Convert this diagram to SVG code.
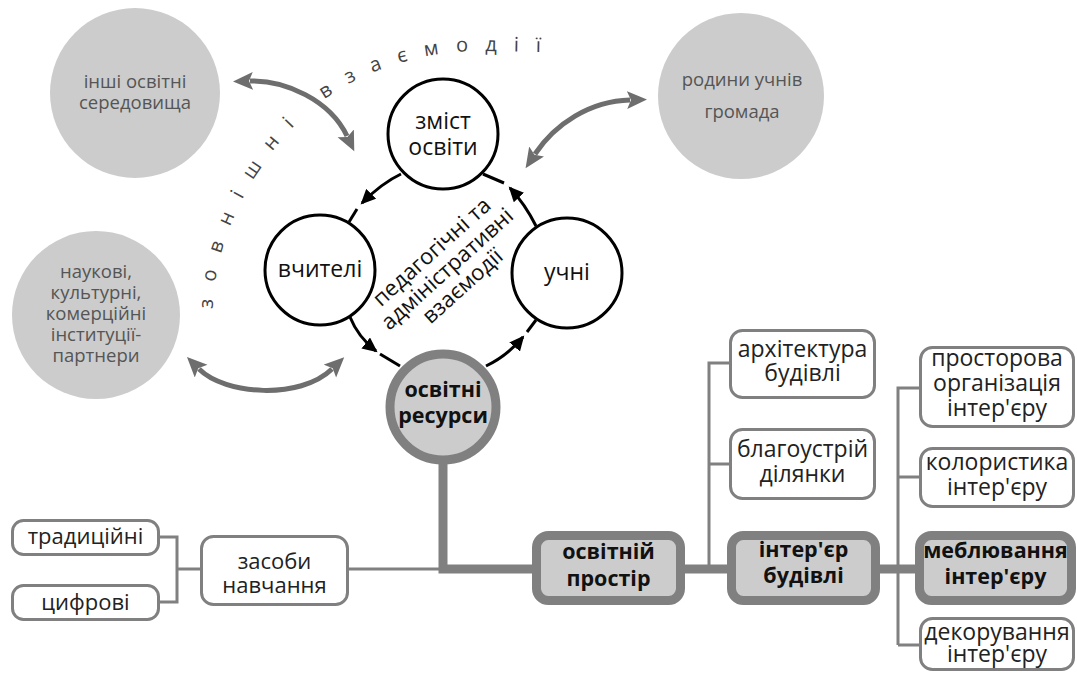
<svg xmlns="http://www.w3.org/2000/svg" width="1077" height="673" viewBox="0 0 1077 673">
<style>
text{font-family:"Open Sans","Liberation Sans",sans-serif;text-anchor:middle}
.gc{fill:#cccccc}
.gt{fill:#555;font-size:18.5px}
.bc{fill:#fff;stroke:#000;stroke-width:3}
.bt{fill:#111;font-size:23px}
.box{fill:#fff;stroke:#808080;stroke-width:3}
.hbox{fill:#cccccc;stroke:#808080;stroke-width:9}
.xt{fill:#222;font-size:23px}
.lt{fill:#222;font-size:22px}
.ht{fill:#111;font-size:21.5px;font-weight:bold}
.thin{fill:none;stroke:#808080;stroke-width:3}
.thick{fill:none;stroke:#808080;stroke-width:9}
.ring{fill:none;stroke:#000;stroke-width:3}
.dbl{fill:none;stroke:#6e6e6e;stroke-width:5}
</style>
<defs>
<marker id="ah" markerUnits="userSpaceOnUse" markerWidth="16" markerHeight="14" refX="13" refY="7" orient="auto"><path d="M0,0 L15,7 L0,14 z" fill="#000"/></marker>
<marker id="gh" markerUnits="userSpaceOnUse" markerWidth="22" markerHeight="20" refX="3" refY="9" orient="auto-start-reverse"><path d="M0,0 L20,9 L0,18 L4,9 z" fill="#6e6e6e"/></marker>
<path id="arcp" d="M 213 318 C 211 250, 246 172, 305 115 C 354 71, 421 51, 480 51 L 600 53"/>
</defs>
<g id="connectors">
<path class="ring" d="M 401 174 Q 382 183 362 203" marker-end="url(#ah)"/>
<path class="ring" d="M 357 209 L 349 222"/>
<path class="ring" d="M 350 317 Q 358 337 376 351" marker-end="url(#ah)"/>
<path class="ring" d="M 380 354 L 400 366"/>
<path class="ring" d="M 486 366 Q 507 356 523 337" marker-end="url(#ah)"/>
<path class="ring" d="M 527 332 L 536 320"/>
<path class="ring" d="M 536 226 Q 525 204 510 188" marker-end="url(#ah)"/>
<path class="ring" d="M 504 183 L 483 174"/>
<path class="dbl" d="M 250 81 C 285 80, 330 100, 347 136" marker-start="url(#gh)" marker-end="url(#gh)"/>
<path class="dbl" d="M 535 154 C 555 124, 590 101, 630 100" marker-start="url(#gh)" marker-end="url(#gh)"/>
<path class="dbl" d="M 199 369 C 225 395, 300 400, 332 369" marker-start="url(#gh)" marker-end="url(#gh)"/>
<path class="thick" d="M 443 462 V 569 H 537"/>
<path class="thick" d="M 680 569 H 732"/>
<path class="thick" d="M 875 569 H 921"/>
<path class="thin" d="M 347 569 H 443"/>
<path class="thin" d="M 158 537 H 177 V 602 H 158 M 177 569 H 202"/>
<path class="thin" d="M 709 569 V 363 H 731 M 709 464 H 731"/>
<path class="thin" d="M 898 645 V 388 H 921 M 898 477 H 921 M 898 645 H 921"/>
</g>
<text style="fill:#444;font-size:20px;letter-spacing:17px;text-anchor:start"><textPath href="#arcp" startOffset="9">зовнішні взаємодії</textPath></text>
<g id="n-inshi"><circle class="gc" cx="135" cy="93" r="85"/><text class="gt"><tspan x="135" y="88">інші освітні</tspan><tspan x="135" y="109">середовища</tspan></text></g>
<g id="n-naukovi"><circle class="gc" cx="96" cy="315" r="84"/><text class="gt"><tspan x="96" y="278">наукові,</tspan><tspan x="96" y="299">культурні,</tspan><tspan x="96" y="320">комерційні</tspan><tspan x="96" y="341">інституції-</tspan><tspan x="96" y="362">партнери</tspan></text></g>
<g id="n-rodyny"><circle class="gc" cx="741" cy="96" r="83"/><text class="gt"><tspan x="742" y="86">родини учнів</tspan><tspan x="742" y="118">громада</tspan></text></g>
<g id="n-zmist"><circle class="bc" cx="443" cy="134" r="55"/><text class="bt"><tspan x="443" y="129">зміст</tspan><tspan x="443" y="155">освіти</tspan></text></g>
<g id="n-vchyteli"><circle class="bc" cx="320" cy="270" r="55"/><text class="bt" x="320" y="277">вчителі</text></g>
<g id="n-uchni"><circle class="bc" cx="567" cy="273" r="55"/><text class="bt" x="567" y="280">учні</text></g>
<g id="n-interactions"><text class="bt" style="font-size:22px" transform="translate(448,270) rotate(-42)"><tspan x="0" y="-17">педагогічні та</tspan><tspan x="0" y="6">адміністративні</tspan><tspan x="0" y="29">взаємодії</tspan></text></g>
<g id="n-resursy"><circle cx="443" cy="407" r="53" fill="#cccccc" stroke="#808080" stroke-width="9"/><text class="ht"><tspan x="443" y="397">освітні</tspan><tspan x="443" y="423">ресурси</tspan></text></g>
<g id="n-prostir"><rect class="hbox" x="536.5" y="535.5" width="144" height="65" rx="12"/><text class="ht"><tspan x="608.5" y="559">освітній</tspan><tspan x="608.5" y="586">простір</tspan></text></g>
<g id="n-zasoby"><rect class="box" x="201.5" y="536.5" width="146" height="68" rx="12"/><text class="lt"><tspan x="274.5" y="569">засоби</tspan><tspan x="274.5" y="593">навчання</tspan></text></g>
<g id="n-tradytsiyni"><rect class="box" x="12.5" y="520.5" width="146" height="34" rx="11"/><text class="lt" x="85.5" y="544">традиційні</text></g>
<g id="n-tsyfrovi"><rect class="box" x="12.5" y="585.5" width="146" height="34" rx="11"/><text class="lt" x="85.5" y="610">цифрові</text></g>
<g id="n-interier"><rect class="hbox" x="731.5" y="535.5" width="144" height="65" rx="12"/><text class="ht"><tspan x="803.5" y="557">інтер'єр</tspan><tspan x="803.5" y="583">будівлі</tspan></text></g>
<g id="n-arkhitektura"><rect class="box" x="730.5" y="330.5" width="144" height="67" rx="12"/><text class="xt"><tspan x="802.5" y="357">архітектура</tspan><tspan x="802.5" y="381">будівлі</tspan></text></g>
<g id="n-blahoustriy"><rect class="box" x="730.5" y="429.5" width="144" height="69" rx="12"/><text class="xt"><tspan x="802.5" y="457">благоустрій</tspan><tspan x="802.5" y="482">ділянки</tspan></text></g>
<g id="n-prostorova"><rect class="box" x="920.5" y="347.5" width="153" height="79" rx="12"/><text class="xt"><tspan x="997" y="366">просторова</tspan><tspan x="997" y="391">організація</tspan><tspan x="997" y="416">інтер'єру</tspan></text></g>
<g id="n-kolorystyka"><rect class="box" x="920.5" y="448.5" width="153" height="58" rx="12"/><text class="xt"><tspan x="997" y="470">колористика</tspan><tspan x="997" y="495">інтер'єру</tspan></text></g>
<g id="n-mebliuvannia"><rect class="hbox" x="919.5" y="535.5" width="152" height="65" rx="12"/><text class="ht"><tspan x="995.5" y="558">меблювання</tspan><tspan x="995.5" y="584">інтер'єру</tspan></text></g>
<g id="n-dekoruvannia"><rect class="box" x="920.5" y="618.5" width="153" height="51" rx="12"/><text class="xt"><tspan x="997" y="640">декорування</tspan><tspan x="997" y="662">інтер'єру</tspan></text></g>
</svg>
